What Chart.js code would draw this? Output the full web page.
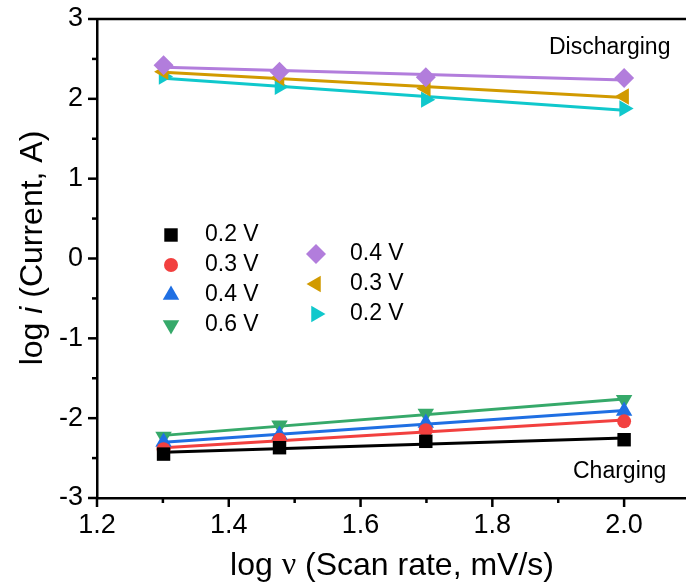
<!DOCTYPE html>
<html>
<head>
<meta charset="utf-8">
<script src="https://cdn.jsdelivr.net/npm/chart.js@4.4.1/dist/chart.umd.min.js"></script>
<style>
  body { margin: 0; background: #fff; overflow: hidden; }
  #wrap { width: 700px; height: 587px; }
</style>
</head>
<body>
<div id="wrap"><canvas id="chart"></canvas></div>
<script>
// log scan rate (20, 30, 50, 100 mV/s)
var logRate = [1.301, 1.477, 1.699, 2.0];

// charging branch
var charge02 = [-2.45, -2.37, -2.29, -2.27];
var charge03 = [-2.39, -2.27, -2.15, -2.04];
var charge04 = [-2.30, -2.21, -2.06, -1.91];
var charge06 = [-2.23, -2.09, -1.94, -1.77];

// discharging branch
var discharge04 = [2.42, 2.34, 2.27, 2.26];
var discharge03 = [2.34, 2.26, 2.13, 2.03];
var discharge02 = [2.28, 2.15, 1.99, 1.88];

var xTicks = [1.2, 1.4, 1.6, 1.8, 2.0];
var yTicks = [-3, -2, -1, 0, 1, 2, 3];

var FONT = "'Liberation Sans', Arial, sans-serif";

var series = [
    { label: "0.2 V", data: charge02, color: "#000000", style: "rect", radius: 9.5, rotation: 0 },
    { label: "0.3 V", data: charge03, color: "#f2403f", style: "circle", radius: 7, rotation: 0 },
    { label: "0.4 V", data: charge04, color: "#1f6fe3", style: "triangle", radius: 9.5, rotation: 0 },
    { label: "0.6 V", data: charge06, color: "#36a96a", style: "triangle", radius: 9.5, rotation: 180 },
    { label: "0.4 V", data: discharge04, color: "#b27ddc", style: "rectRot", radius: 10, rotation: 0 },
    { label: "0.3 V", data: discharge03, color: "#d19a00", style: "triangle", radius: 9.5, rotation: -90 },
    { label: "0.2 V", data: discharge02, color: "#10c8cc", style: "triangle", radius: 9.5, rotation: 90 }
];

// least squares line through each set of points, from first to last x
function fitLine(xs, ys) {
    var n = xs.length, sx = 0, sy = 0, sxx = 0, sxy = 0;
    for (var i = 0; i < n; i++) {
        sx += xs[i]; sy += ys[i];
        sxx += xs[i] * xs[i]; sxy += xs[i] * ys[i];
    }
    var b = (n * sxy - sx * sy) / (n * sxx - sx * sx);
    var a = (sy - b * sx) / n;
    return [
        { x: xs[0], y: a + b * xs[0] },
        { x: xs[n - 1], y: a + b * xs[n - 1] }
    ];
}

var datasets = [];
series.forEach(function (s) {
    datasets.push({
        label: s.label,
        data: s.data.map(function (v, i) { return { x: logRate[i], y: v }; }),
        showLine: false,
        pointStyle: s.style,
        pointRotation: s.rotation,
        pointRadius: s.radius,
        pointBackgroundColor: s.color,
        pointBorderWidth: 0,
        order: 0
    });
    datasets.push({
        label: s.label + " fit",
        data: fitLine(logRate, s.data),
        showLine: true,
        borderColor: s.color,
        borderWidth: 3,
        pointRadius: 0,
        order: 1
    });
});

function marker(ctx, s, x, y) {
    ctx.fillStyle = s.color;
    Chart.helpers.drawPoint(ctx, {
        pointStyle: s.style, rotation: s.rotation, radius: s.radius, borderWidth: 0
    }, x, y);
}

// text pieces drawn one after another, centred on (cx, cy)
function mixedText(ctx, parts, cx, cy, angle) {
    ctx.save();
    ctx.translate(cx, cy);
    ctx.rotate(angle);
    var total = 0;
    parts.forEach(function (p) { ctx.font = p.font; p.w = ctx.measureText(p.text).width; total += p.w; });
    var x = -total / 2;
    ctx.fillStyle = "#000";
    ctx.textBaseline = "middle";
    ctx.textAlign = "left";
    parts.forEach(function (p) { ctx.font = p.font; ctx.fillText(p.text, x, 0); x += p.w; });
    ctx.restore();
}

var decorations = {
    id: "decorations",
    afterDraw: function (chart) {
        var ctx = chart.ctx;
        var area = chart.chartArea;
        var xs = chart.scales.x, ys = chart.scales.y;

        ctx.save();
        ctx.strokeStyle = "#000";
        ctx.lineWidth = 2.5;

        // top frame line
        ctx.beginPath();
        ctx.moveTo(area.left, area.top);
        ctx.lineTo(area.right + 10, area.top);
        ctx.stroke();

        // x ticks every 0.1, longer on labelled ones
        for (var i = 0; i <= 9; i++) {
            var v = 1.2 + i * 0.1;
            var px = xs.getPixelForValue(v);
            var len = (i % 2 === 0) ? 9 : 5;
            ctx.beginPath();
            ctx.moveTo(px, area.bottom);
            ctx.lineTo(px, area.bottom + len);
            ctx.stroke();
        }
        // y ticks every 0.5
        for (var j = 0; j <= 12; j++) {
            var w = -3 + j * 0.5;
            var py = ys.getPixelForValue(w);
            var l = (j % 2 === 0) ? 9 : 5;
            ctx.beginPath();
            ctx.moveTo(area.left, py);
            ctx.lineTo(area.left - l, py);
            ctx.stroke();
        }

        // axis titles
        mixedText(ctx, [
            { text: "log ", font: "32px " + FONT },
            { text: "\u03bd", font: "32px 'Liberation Serif', 'Times New Roman', serif" },
            { text: " (Scan rate, mV/s)", font: "32px " + FONT }
        ], 392, 566, 0);
        mixedText(ctx, [
            { text: "log ", font: "32px " + FONT },
            { text: "i", font: "italic 32px " + FONT },
            { text: " (Current, A)", font: "32px " + FONT }
        ], 33, 248, -Math.PI / 2);

        // branch notes
        ctx.fillStyle = "#000";
        ctx.font = "23px " + FONT;
        ctx.textAlign = "left";
        ctx.textBaseline = "middle";
        ctx.fillText("Discharging", 549, 48);
        ctx.fillText("Charging", 573, 472);

        // legend, two columns
        var col1 = [[235, 0], [265, 1], [295, 2], [325, 3]];
        var col2 = [[254, 4], [284, 5], [314, 6]];
        col1.forEach(function (r) {
            marker(ctx, series[r[1]], 171, r[0]);
            ctx.fillStyle = "#000";
            ctx.fillText(series[r[1]].label, 205, r[0]);
        });
        col2.forEach(function (r) {
            marker(ctx, series[r[1]], 316, r[0]);
            ctx.fillStyle = "#000";
            ctx.fillText(series[r[1]].label, 350, r[0]);
        });
        ctx.restore();
    }
};

new Chart(document.getElementById("chart"), {
    type: "scatter",
    data: { datasets: datasets },
    options: {
        responsive: true,
        maintainAspectRatio: false,
        animation: false,
        layout: { padding: { top: 19, right: 8, left: 0, bottom: 0 } },
        plugins: {
            legend: { display: false },
            tooltip: { enabled: false }
        },
        scales: {
            x: {
                type: "linear",
                min: 1.2,
                max: 2.1,
                afterFit: function (s) { s.height = 89; s.paddingLeft = 0; s.paddingRight = 0; },
                afterBuildTicks: function (s) { s.ticks = xTicks.map(function (v) { return { value: v }; }); },
                grid: { display: false, drawTicks: false },
                border: { display: true, color: "#000", width: 2.5 },
                ticks: {
                    padding: 11,
                    color: "#000",
                    font: { family: FONT, size: 27 },
                    callback: function (v) { return v.toFixed(1); }
                }
            },
            y: {
                type: "linear",
                min: -3,
                max: 3,
                afterFit: function (s) { s.width = 97; s.paddingTop = 0; s.paddingBottom = 0; },
                afterBuildTicks: function (s) { s.ticks = yTicks.map(function (v) { return { value: v }; }); },
                grid: { display: false, drawTicks: false },
                border: { display: true, color: "#000", width: 2.5 },
                ticks: {
                    padding: 14,
                    color: "#000",
                    font: { family: FONT, size: 27 },
                    callback: function (v) { return String(v); }
                }
            }
        }
    },
    plugins: [decorations]
});
</script>
</body>
</html>
